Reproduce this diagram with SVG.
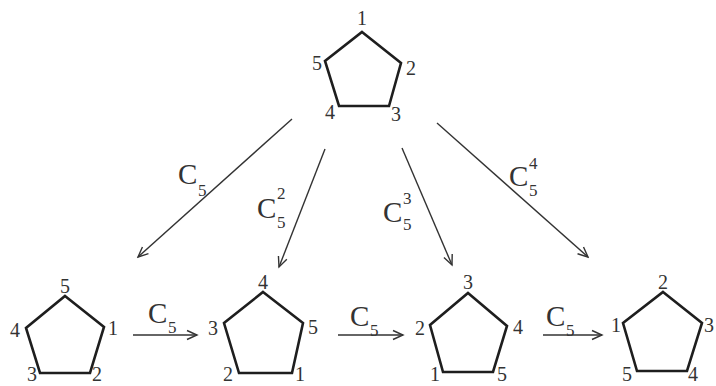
<svg xmlns="http://www.w3.org/2000/svg" width="716" height="386" viewBox="0 0 716 386">
<style>
.pg{fill:none;stroke:#1e1e1e;stroke-width:2.6;stroke-linejoin:miter}
.lb{font-family:"Liberation Serif","Times New Roman",serif;font-size:20px;fill:#333;text-anchor:middle}
.c{font-family:"Liberation Serif","Times New Roman",serif;font-size:29px;fill:#333}
.s{font-family:"Liberation Serif","Times New Roman",serif;font-size:17px;fill:#333}
.ar{fill:none;stroke:#333;stroke-width:1.4;marker-end:url(#ah)}
</style>
<defs>
<marker id="ah" viewBox="-12 -6 14 12" refX="0" refY="0" markerWidth="14" markerHeight="12" markerUnits="userSpaceOnUse" orient="auto">
<path d="M-10,-4.5 L0,0 L-10,4.5" fill="none" stroke="#333" stroke-width="1.4"/>
</marker>
</defs>
<rect width="716" height="386" fill="#fff"/>
<g id="top">
<polygon class="pg" points="362,32 401,63 389,106 339,106 325,61"/>
<text class="lb" x="362" y="25">1</text>
<text class="lb" x="317" y="70">5</text>
<text class="lb" x="411" y="75">2</text>
<text class="lb" x="330" y="119">4</text>
<text class="lb" x="396" y="121">3</text>
</g>
<g id="p1">
<polygon class="pg" points="65,296 104,327 90,373 40,373 26,328"/>
<text class="lb" x="65" y="293">5</text>
<text class="lb" x="15" y="337">4</text>
<text class="lb" x="113" y="335">1</text>
<text class="lb" x="32" y="381">3</text>
<text class="lb" x="97" y="381">2</text>
</g>
<g id="p2">
<polygon class="pg" points="263,292 303,323 292,373 239,373 224,323"/>
<text class="lb" x="263" y="289">4</text>
<text class="lb" x="213" y="335">3</text>
<text class="lb" x="313" y="334">5</text>
<text class="lb" x="228" y="381">2</text>
<text class="lb" x="300" y="381">1</text>
</g>
<g id="p3">
<polygon class="pg" points="468,293 507,326 493,372 443,372 430,325"/>
<text class="lb" x="468" y="289">3</text>
<text class="lb" x="420" y="335">2</text>
<text class="lb" x="518" y="334">4</text>
<text class="lb" x="435" y="381">1</text>
<text class="lb" x="502" y="381">5</text>
</g>
<g id="p4">
<polygon class="pg" points="663,292 702,323 687,371 637,371 623,323"/>
<text class="lb" x="663" y="289">2</text>
<text class="lb" x="616" y="332">1</text>
<text class="lb" x="709" y="332">3</text>
<text class="lb" x="627" y="381">5</text>
<text class="lb" x="693" y="381">4</text>
</g>
<g id="connectors">
<line class="ar" x1="292" y1="119" x2="138" y2="257"/>
<line class="ar" x1="325" y1="149" x2="279" y2="267"/>
<line class="ar" x1="402" y1="148" x2="452" y2="265"/>
<line class="ar" x1="437" y1="123" x2="588" y2="257"/>
<line class="ar" x1="133" y1="335" x2="197" y2="335"/>
<line class="ar" x1="338" y1="335" x2="403" y2="335"/>
<line class="ar" x1="543" y1="335" x2="602" y2="335"/>
<text class="c" x="178" y="184">C</text><text class="s" x="198" y="196">5</text>
<text class="c" x="257" y="218">C</text><text class="s" x="277" y="199">2</text><text class="s" x="277" y="228">5</text>
<text class="c" x="383" y="222">C</text><text class="s" x="403" y="204">3</text><text class="s" x="403" y="230">5</text>
<text class="c" x="509" y="186">C</text><text class="s" x="529" y="169">4</text><text class="s" x="529" y="196">5</text>
<text class="c" x="148" y="323">C</text><text class="s" x="168" y="333">5</text>
<text class="c" x="350" y="326">C</text><text class="s" x="370" y="336">5</text>
<text class="c" x="546" y="326">C</text><text class="s" x="566" y="336">5</text>
</g>
</svg>
